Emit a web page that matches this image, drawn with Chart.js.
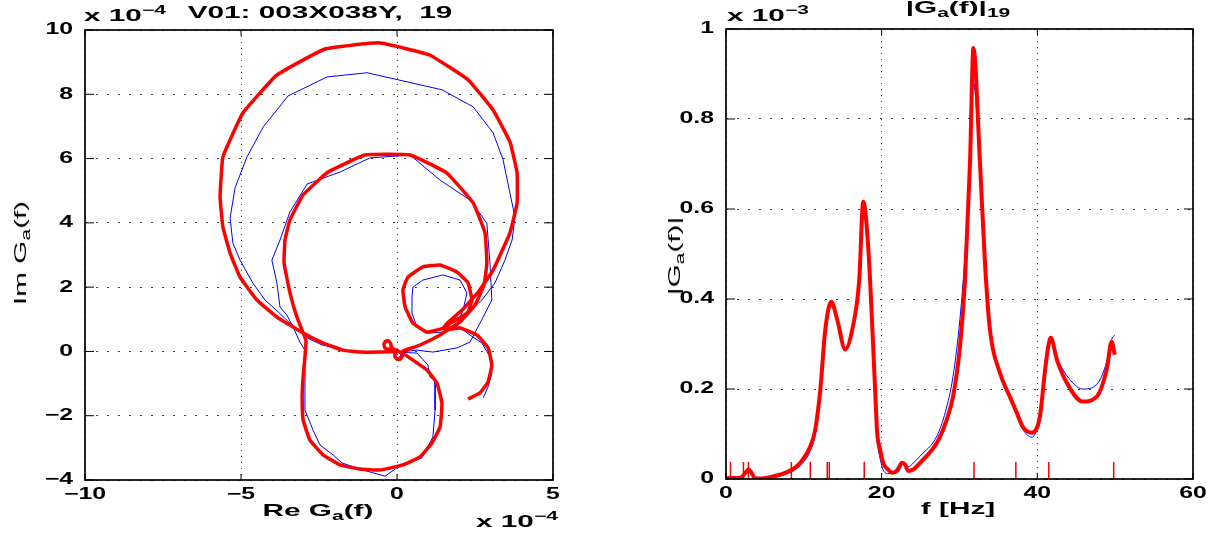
<!DOCTYPE html>
<html>
<head>
<meta charset="utf-8">
<script src="https://cdn.jsdelivr.net/npm/chart.js@4.4.0/dist/chart.umd.min.js"></script>
<style>
  body { margin: 0; background: #fff; }
  #page { position: relative; width: 1229px; height: 533px; overflow: hidden; background: #fff; }
  canvas { position: absolute; left: 0; top: 0; }
  .lbl { position: absolute; white-space: nowrap; color: #000;
         font: bold 17px "Liberation Sans", Arial, sans-serif; }
  .mid { transform: translate(-50%, -50%) scaleX(1.75); }
  .left { transform-origin: left center; transform: translateY(-50%) scaleX(1.75); }
  .rot { transform: translate(-50%, -50%) rotate(-90deg) scaleX(1.75); font-weight: normal; }
  .lbl sub, .lbl sup { font-size: 12px; line-height: 0; }
</style>
</head>
<body>
<div id="page">
  <canvas id="chartNyquist" width="1229" height="533"></canvas>
  <canvas id="chartAmplitude" width="1229" height="533"></canvas>

  <div class="lbl left" style="left:84px; top:16px;">x 10<sup>−4</sup></div>
  <div class="lbl mid" style="left:320px; top:13px;">V01: 003X038Y,&nbsp; 19</div>
  <div class="lbl mid" style="left:318px; top:511px;">Re G<sub>a</sub>(f)</div>
  <div class="lbl left" style="left:476px; top:522px;">x 10<sup>−4</sup></div>
  <div class="lbl rot" style="left:21px; top:253px;">Im G<sub>a</sub>(f)</div>

  <div class="lbl left" style="left:727px; top:16px;">x 10<sup>−3</sup></div>
  <div class="lbl mid" style="left:958px; top:8px;">|G<sub>a</sub>(f)|<sub>19</sub></div>
  <div class="lbl mid" style="left:958px; top:509px;">f [Hz]</div>
  <div class="lbl rot" style="left:675px; top:256px;">|G<sub>a</sub>(f)|</div>
</div>

<script>
// Ortskurve (x 1e-4): rote Kurve = Modell, blaue Kurve = Messung
const reRed = [0.00, -0.10, -0.18, -0.20, -0.27, -0.37, -0.42, -0.39, -0.30, -0.18, -0.05, 0.10, 0.25,
  0.51, 0.96, 1.28, 1.44, 1.38, 1.12, 0.74, 0.19, -0.54, -1.19, -1.83, -2.37, -2.79, -3.01, -3.04, -3.01, -2.95, -2.92,
  -3.21, -3.43, -3.62, -3.59, -3.43, -3.01, -2.21, -1.03, 0.42, 1.60, 2.44, 2.82, 2.88, 2.79, 2.50, 2.02, 1.38, 0.74, 0.19,
  0.17, 0.17, 0.10, 0.00, -0.07, -0.06, 0.03, 0.00,
  -0.54, -1.19, -1.73, -2.37, -3.01, -3.33, -3.85, -4.49, -5.03, -5.35, -5.58, -5.67, -5.58, -4.94, -3.85, -2.31, -0.58,
  1.03, 2.28, 3.08, 3.62, 3.85, 3.85, 3.62, 3.08, 2.60, 2.08, 1.63, 1.47,
  0.96, 0.51, 0.26, 0.19, 0.35, 0.83, 1.38, 1.92, 2.28, 2.40, 2.28, 2.02, 1.70, 1.54,
  2.02, 2.56, 2.92, 3.04, 2.92, 2.66, 2.28];
const imRed = [0.00, 0.06, 0.13, 0.24, 0.33, 0.31, 0.22, 0.12, 0.07, 0.08, 0.05, -0.02, -0.10,
  -0.27, -0.58, -0.98, -1.61, -2.35, -2.85, -3.28, -3.53, -3.69, -3.66, -3.53, -3.22, -2.76, -2.13, -1.42, -0.80, -0.17, 0.35,
  1.07, 1.82, 2.75, 3.47, 4.09, 4.87, 5.58, 6.11, 6.11, 5.55, 4.62, 3.69, 2.75, 2.07, 1.44, 0.92, 0.51, 0.20, 0.01,
  -0.06, -0.15, -0.24, -0.24, -0.15, -0.05, 0.01, 0.00,
  -0.02, -0.02, 0.04, 0.26, 0.57, 0.76, 1.07, 1.60, 2.31, 3.06, 3.87, 4.80, 6.05, 7.42, 8.60, 9.41, 9.60,
  9.23, 8.45, 7.51, 6.52, 5.55, 4.62, 3.69, 2.53, 1.84, 1.28, 0.90, 0.72,
  0.60, 0.88, 1.38, 1.91, 2.31, 2.63, 2.69, 2.47, 2.13, 1.60, 1.23, 1.04, 0.88, 0.67,
  0.73, 0.51, 0.11, -0.42, -0.95, -1.29, -1.48];

const reBlue = [0.00, 0.10,
  0.64, 0.99, 1.06, 1.22, 1.22, 1.15, 0.80, 0.03, -0.38, -1.09, -1.76, -2.05, -2.47, -2.69, -2.95, -2.95, -2.95,
  -3.11, -3.33, -3.53, -3.75, -3.85, -4.01, -3.75, -3.43, -2.88, -1.83, -0.87, 0.00, 0.42, 1.38, 2.34, 2.88, 2.98, 3.04,
  2.66, 2.34, 1.92, 1.15, 0.64, 0.10,
  0.12, 0.00, -0.08, 0.00,
  -0.54, -1.41, -1.92, -2.40, -2.88, -3.43, -3.81, -4.23, -4.62, -5.03, -5.26, -5.35, -5.19, -4.81, -4.29, -3.49, -2.24,
  -0.96, 1.44, 2.44, 3.08, 3.40, 3.78, 3.69, 3.46, 3.14, 2.72, 2.18, 1.76,
  1.44, 0.96, 0.64, 0.48, 0.48, 0.51, 0.83, 1.47, 2.02, 2.24, 2.12, 1.92,
  2.34, 2.72, 2.98, 3.04, 2.92, 2.76];
const imBlue = [0.00, -0.03,
  -0.05, -0.42, -0.80, -0.89, -1.82, -2.66, -3.31, -3.60, -3.88, -3.69, -3.47, -3.22, -2.91, -2.45, -1.82, -0.67, 0.04,
  0.29, 0.76, 1.13, 1.38, 2.13, 2.84, 3.47, 4.34, 5.21, 5.58, 6.02, 6.08, 6.11, 5.33, 4.71, 3.99, 2.75, 1.60,
  0.88, 0.29, 0.11, -0.02, 0.04, -0.02,
  -0.15, -0.20, -0.08, 0.00,
  -0.02, -0.02, 0.11, 0.20, 0.42, 0.88, 1.23, 1.60, 2.13, 2.84, 3.37, 4.15, 5.09, 6.05, 6.98, 7.95, 8.54,
  8.67, 8.14, 7.61, 6.80, 5.96, 4.18, 3.47, 2.84, 2.13, 1.60, 1.13, 0.73,
  0.60, 0.57, 0.76, 1.20, 1.69, 2.00, 2.22, 2.38, 2.22, 1.82, 1.29, 0.82,
  0.51, 0.26, -0.17, -0.67, -1.10, -1.45];

// Amplitudengang (x 1e-3)
const freqHz = [0, 1.86, 2.50, 2.88, 3.27, 3.78, 5.32, 6.99, 8.53, 9.55, 10.83, 11.47, 12.12, 12.76, 13.53, 14.29,
  15.32, 16.22, 17.12, 17.63, 18.27, 18.91, 19.29, 19.42, 19.81, 20.19, 20.83, 21.35, 21.99, 22.63, 23.01, 23.40,
  24.04, 24.94, 27.12, 28.20, 29.17, 30.06, 30.71, 31.35, 31.79, 32.63, 33.27, 33.91, 35.19, 36.47, 37.37, 38.14,
  39.29, 40.32, 41.00, 41.40, 41.73, 42.50, 43.78, 45.83, 47.63, 48.91, 49.55, 49.94];
const magRed = [0.002, 0.003, 0.014, 0.021, 0.014, 0.001, 0.003, 0.010, 0.021, 0.036, 0.072, 0.110, 0.199, 0.332, 0.394, 0.354,
  0.288, 0.332, 0.443, 0.616, 0.516, 0.294, 0.147, 0.103, 0.065, 0.036, 0.021, 0.014, 0.018, 0.036, 0.032, 0.018,
  0.021, 0.036, 0.081, 0.124, 0.183, 0.294, 0.443, 0.703, 0.958, 0.703, 0.481, 0.332, 0.236, 0.183, 0.147, 0.116,
  0.103, 0.138, 0.243, 0.294, 0.314, 0.266, 0.214, 0.172, 0.183, 0.243, 0.305, 0.276];
const magBlue = [0.001, 0.002, 0.012, 0.019, 0.012, 0.001, 0.002, 0.007, 0.017, 0.030, 0.063, 0.100, 0.190, 0.320, 0.383, 0.350,
  0.288, 0.330, 0.440, 0.605, 0.500, 0.262, 0.120, 0.085, 0.045, 0.020, 0.012, 0.013, 0.025, 0.037, 0.032, 0.027,
  0.035, 0.051, 0.096, 0.150, 0.228, 0.356, 0.500, 0.720, 0.880, 0.690, 0.470, 0.330, 0.236, 0.180, 0.140, 0.110,
  0.093, 0.140, 0.243, 0.294, 0.310, 0.270, 0.230, 0.200, 0.210, 0.260, 0.310, 0.320];

// Eigenfrequenzen (rote Striche unten)
const modeFreqs = [0.58, 2.24, 2.88, 8.40, 10.83, 13.01, 13.27, 17.76, 31.86, 37.24, 41.47, 49.81];
const modeMarkHeight = 0.038;

const nyqXTicks = [-10, -5, 0, 5];
const nyqYTicks = [-4, -2, 0, 2, 4, 6, 8, 10];
const ampXTicks = [0, 20, 40, 60];
const ampYTicks = [0, 0.2, 0.4, 0.6, 0.8, 1];

const TEXT_STRETCH = 1.55;
const FONT = '"Liberation Sans", Arial, sans-serif';

function toPoints(xs, ys) {
  return xs.map((x, i) => ({ x: x, y: ys[i] }));
}

// Texte horizontal strecken wie im Original
const stretchText = {
  id: 'stretchText',
  beforeDraw(chart) {
    const ctx = chart.ctx;
    if (ctx._stretched) return;
    const orig = ctx.fillText.bind(ctx);
    ctx.fillText = function (text, x, y) {
      ctx.save();
      ctx.translate(x, y);
      ctx.scale(TEXT_STRETCH, 1);
      orig(text, 0, 0);
      ctx.restore();
    };
    ctx._stretched = true;
  }
};

// Rahmen + Ticks nach innen (Matlab-Stil)
const axesBox = {
  id: 'axesBox',
  afterDraw(chart) {
    const { ctx, chartArea: a } = chart;
    const xs = chart.scales.x, ys = chart.scales.y;
    ctx.save();
    ctx.strokeStyle = '#000';
    ctx.lineWidth = 1;
    ctx.beginPath();
    xs.ticks.forEach(t => {
      const px = xs.getPixelForValue(t.value);
      ctx.moveTo(px, a.bottom); ctx.lineTo(px, a.bottom - 6);
      ctx.moveTo(px, a.top); ctx.lineTo(px, a.top + 6);
    });
    ys.ticks.forEach(t => {
      const py = ys.getPixelForValue(t.value);
      ctx.moveTo(a.left, py); ctx.lineTo(a.left + 9, py);
      ctx.moveTo(a.right, py); ctx.lineTo(a.right - 9, py);
    });
    ctx.stroke();
    ctx.lineWidth = 1.7;
    ctx.strokeRect(a.left, a.top, a.right - a.left, a.bottom - a.top);
    ctx.restore();
  }
};

function minusSign(v) {
  return String(Number(v.toFixed(1))).replace('-', '\u2212');
}

function axisOptions(min, max, tickValues, isX, size, dash) {
  return {
    type: 'linear',
    min: min,
    max: max,
    afterBuildTicks: scale => { scale.ticks = tickValues.map(v => ({ value: v })); },
    afterFit: scale => { if (isX) scale.height = size; else scale.width = size; },
    ticks: {
      color: '#000',
      padding: isX ? 5 : 12,
      font: { family: FONT, size: 16, weight: 'bold' },
      callback: v => minusSign(v)
    },
    grid: { color: 'rgba(0,0,0,0.75)', lineWidth: 1, drawTicks: false },
    border: { display: false, dash: dash }
  };
}

// Ortskurve
new Chart(document.getElementById('chartNyquist'), {
  type: 'scatter',
  data: {
    datasets: [
      { label: 'Modell', data: toPoints(reRed, imRed), showLine: true, borderColor: '#ff0000',
        borderWidth: 3.5, pointRadius: 0, tension: 0.1, order: 0 },
      { label: 'Messung', data: toPoints(reBlue, imBlue), showLine: true, borderColor: '#0000ff',
        borderWidth: 1, pointRadius: 0, tension: 0, order: 1 }
    ]
  },
  options: {
    responsive: false,
    animation: false,
    layout: { padding: { left: 40, right: 676, top: 30, bottom: 23 } },
    plugins: { legend: { display: false }, tooltip: { enabled: false } },
    scales: {
      x: axisOptions(-10, 5, nyqXTicks, true, 30, [1, 5]),
      y: axisOptions(-4, 10, nyqYTicks, false, 45, [2, 9])
    }
  },
  plugins: [stretchText, axesBox]
});

// Amplitudengang
const modeMarks = modeFreqs.flatMap(f => [{ x: f, y: 0 }, { x: f, y: modeMarkHeight }, { x: f, y: null }]);

new Chart(document.getElementById('chartAmplitude'), {
  type: 'scatter',
  data: {
    datasets: [
      { label: 'Modell', data: toPoints(freqHz, magRed), showLine: true, borderColor: '#ff0000',
        borderWidth: 4, pointRadius: 0, cubicInterpolationMode: 'monotone', order: 0 },
      { label: 'Messung', data: toPoints(freqHz, magBlue), showLine: true, borderColor: '#0000ff',
        borderWidth: 1, pointRadius: 0, cubicInterpolationMode: 'monotone', order: 1 },
      { label: 'Eigenfrequenzen', data: modeMarks, showLine: true, borderColor: '#ff0000',
        borderWidth: 1.5, pointRadius: 0, spanGaps: false, order: 2 }
    ]
  },
  options: {
    responsive: false,
    animation: false,
    layout: { padding: { left: 676, right: 36, top: 29, bottom: 24 } },
    plugins: { legend: { display: false }, tooltip: { enabled: false } },
    scales: {
      x: axisOptions(0, 60, ampXTicks, true, 30, [1, 5]),
      y: axisOptions(0, 1, ampYTicks, false, 50, [2, 9])
    }
  },
  plugins: [stretchText, axesBox]
});
</script>
</body>
</html>
